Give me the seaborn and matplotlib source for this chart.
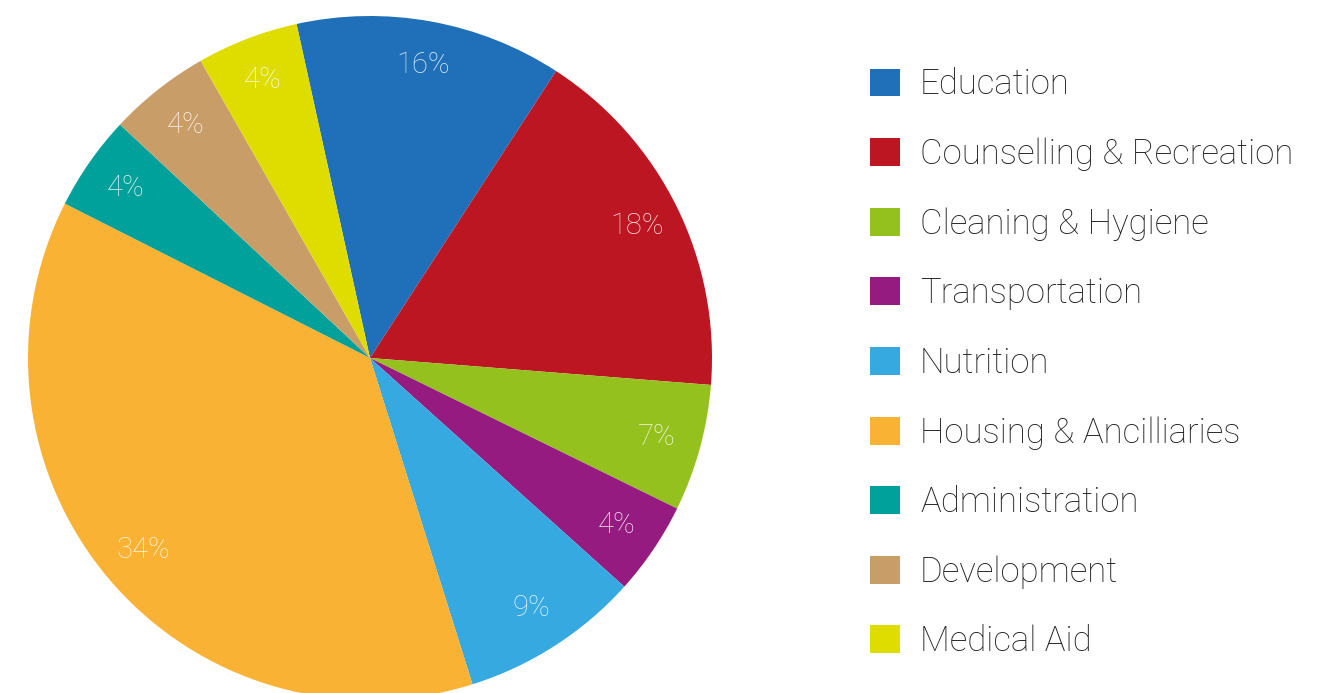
import matplotlib
matplotlib.use("Agg")
import matplotlib.pyplot as plt
import seaborn as sns

sns.set_theme(style="white")
plt.rcParams["font.family"] = ["Roboto", "DejaVu Sans"]

# slice sizes as drawn (share of the circle, %), printed labels as shown
categories = ["Education", "Counselling & Recreation", "Cleaning & Hygiene",
              "Transportation", "Nutrition", "Housing & Ancilliaries",
              "Administration", "Development", "Medical Aid"]
shares = [12.6, 17.1, 6.0, 4.4, 8.5, 37.3, 4.5, 4.8, 4.8]
pct_labels = ["16%", "18%", "7%", "4%", "9%", "34%", "4%", "4%", "4%"]
colors = ["#1f70b8", "#bd1623", "#95c11f", "#951b81", "#36a9e1",
          "#f9b233", "#00a19a", "#c99d68", "#dfdc00"]

W, H = 1331, 693
fig = plt.figure(figsize=(W / 100, H / 100), dpi=100)
ax = fig.add_axes([0, 0, 1, 1])

label_iter = iter(pct_labels)
wedges, _, autotexts = ax.pie(
    shares, colors=sns.color_palette(colors), startangle=102.4,
    counterclock=False, center=(370, H - 358), radius=342,
    autopct=lambda p: next(label_iter), pctdistance=0.87,
    wedgeprops=dict(linewidth=0, antialiased=True),
    textprops=dict(color="white", alpha=0.85, fontsize=21, fontweight="light"),
)
ax.set_xlim(0, W)
ax.set_ylim(0, H)
ax.set_aspect("auto")
ax.axis("off")

ax.legend(wedges, categories, loc="upper left",
          bbox_to_anchor=(870 / W, 1 - 68 / H), bbox_transform=fig.transFigure,
          frameon=False, prop=dict(size=25, weight="light"),
          handlelength=0.86, handleheight=0.86, handletextpad=0.58,
          labelspacing=1.04, borderpad=0, borderaxespad=0,
          labelcolor="#222222")

fig.savefig("out.png", dpi=100)
